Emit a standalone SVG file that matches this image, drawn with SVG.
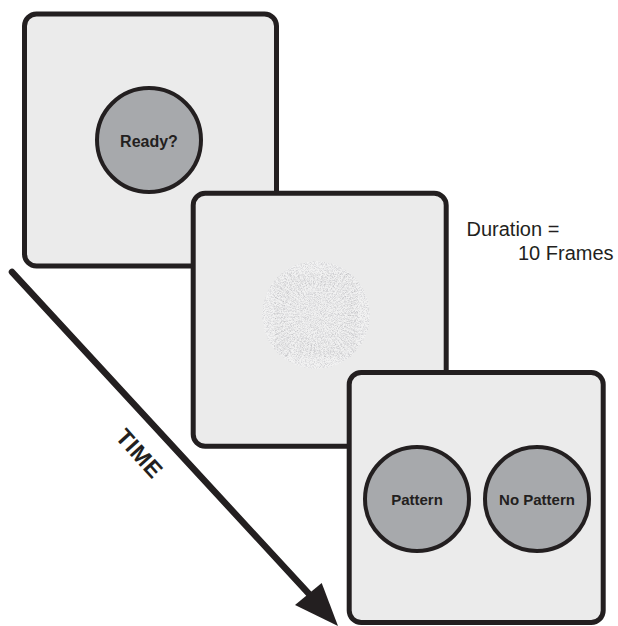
<svg xmlns="http://www.w3.org/2000/svg" width="618" height="626" viewBox="0 0 618 626">
<style>
.box{fill:#ebebeb;stroke:#231f20;stroke-width:5}
.btn{fill:#a7a9ac;stroke:#231f20;stroke-width:4}
.lbl{font-family:"Liberation Sans",Arial,sans-serif;font-weight:bold;fill:#231f20;text-anchor:middle}
.note{font-family:"Liberation Sans",Arial,sans-serif;font-size:20px;fill:#231f20}
</style>
<defs>
<filter id="speck" x="0" y="0" width="1" height="1">
<feTurbulence type="fractalNoise" baseFrequency="1.3" numOctaves="2" seed="7" result="n"/>
<feColorMatrix in="n" type="matrix" values="0 0 0 0 0.66  0 0 0 0 0.66  0 0 0 0 0.68  3 0 0 0 -1.25" result="dots"/>
<feComposite in="dots" in2="SourceGraphic" operator="in"/>
</filter>
<filter id="grain" x="0" y="0" width="1" height="1">
<feTurbulence type="fractalNoise" baseFrequency="1.1" numOctaves="1" seed="19" result="n"/>
<feColorMatrix in="n" type="matrix" values="0 0 0 0 0  0 0 0 0 0  0 0 0 0 0  0 3 0 0 -1.2" result="m"/>
<feComposite in="SourceGraphic" in2="m" operator="in"/>
</filter>
<clipPath id="disc"><circle cx="316" cy="315" r="54"/></clipPath>
</defs>

<g id="screen-ready">
<rect class="box" x="24.5" y="14" width="252" height="252" rx="12"/>
<circle class="btn" cx="149" cy="140" r="52"/>
<text class="lbl" x="149" y="147" font-size="16">Ready?</text>
</g>

<g id="screen-stimulus">
<rect class="box" x="193.2" y="193.2" width="253" height="253" rx="12"/>
<g id="pattern-disc" clip-path="url(#disc)">
<circle cx="316" cy="315" r="54" fill="#f2f2f2"/>
<circle cx="316" cy="315" r="54" fill="#ffffff" filter="url(#speck)"/>
<g filter="url(#grain)">
<circle cx="316" cy="315" r="28" fill="none" stroke="#b0b0b2" stroke-width="52" stroke-dasharray="1 2.4" opacity="0.45"/>
<circle cx="316" cy="315" r="42" fill="none" stroke="#a8a8aa" stroke-width="24" stroke-dasharray="0.8 3.2" opacity="0.4"/>
</g>
</g>
</g>

<g id="screen-response">
<rect class="box" x="349.2" y="372.5" width="254" height="250" rx="12"/>
<g id="btn-pattern">
<circle class="btn" cx="417" cy="499" r="52"/>
<text class="lbl" x="417" y="505" font-size="15">Pattern</text>
</g>
<g id="btn-nopattern">
<circle class="btn" cx="537" cy="499" r="52"/>
<text class="lbl" x="537" y="505" font-size="15">No Pattern</text>
</g>
</g>

<g id="duration-note">
<text class="note" x="466.5" y="236">Duration =</text>
<text class="note" x="518" y="260">10 Frames</text>
</g>

<g id="connectors">
<line x1="12" y1="272" x2="310" y2="595" stroke="#231f20" stroke-width="6.5" stroke-linecap="round"/>
<polygon points="338,626 295,605 321.7,583" fill="#231f20"/>
<text class="lbl" font-size="23" letter-spacing="0.5" transform="translate(139.5,453.5) rotate(48)" y="8">TIME</text>
</g>
</svg>
